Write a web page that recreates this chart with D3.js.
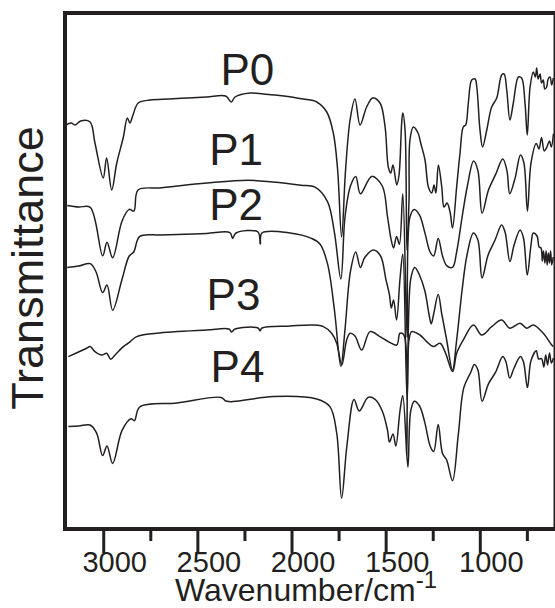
<!DOCTYPE html>
<html>
<head>
<meta charset="utf-8">
<script src="https://cdn.jsdelivr.net/npm/d3@7"></script>
<style>
  body { margin: 0; background: #fff; }
  svg { display: block; }
  text { font-family: "Liberation Sans", Arial, sans-serif; fill: #231f20; }
</style>
</head>
<body>
<svg id="chart" width="555" height="608"></svg>
<script>
// spectra: [wavenumber cm-1, transmittance (a.u., stacked)]
var p0 = [[3198,202],[3170,203],[3150,202],[3120,204],[3070,203.5],[3044,193],[3000,175.5],[2982,185.5],[2955,169.5],[2928,183],[2893,196],[2872,205.5],[2858,203],[2842,207],[2814,213],[2752,214.5],[2650,215],[2550,215.5],[2450,216],[2350,216.5],[2320,213.5],[2300,216],[2220,218],[2150,217.5],[2088,217],[2000,216],[1939,215],[1866,213.5],[1813,208.5],[1778,198],[1755,179.5],[1734,146],[1713,179.5],[1689,204.5],[1663,215],[1636,202],[1601,211],[1569,215.5],[1530,213],[1503,201],[1486,181],[1473,178],[1461,182],[1441,172],[1429,177],[1415,203],[1409,208],[1397,199.5],[1387,139.5],[1376,164.5],[1371,194.5],[1353,201],[1328,198],[1314,193],[1291,184.5],[1273,171],[1255,168],[1243,172],[1233,168],[1220,182],[1202,171],[1190,161],[1174,163],[1158,158.5],[1145,150.5],[1123,171],[1105,188],[1088,201],[1075,202],[1061,213],[1043,224.5],[1025,225],[1016,221],[999,199.5],[985,191],[963,199.5],[937,211],[910,215.5],[884,227],[871,227.5],[857,219.5],[840,204.5],[822,213],[795,226],[778,225.5],[760,213],[748,197],[733,221],[716,228.5],[705,226],[698,230.5],[690,225],[680,227.5],[672,223],[663,224.5],[655,220],[645,221],[637,225],[627,226],[618,222],[610,225.5]];

var p1 = [[3191,161.8],[3130,161],[3069,160.8],[3003,136.6],[2980,143.4],[2950,135.6],[2900,154],[2862,159.8],[2837,159],[2815,169.5],[2700,170.5],[2608,171.5],[2450,173],[2232,174.4],[2100,173.5],[1950,171.9],[1875,170.9],[1809,163.7],[1772,148.2],[1738,125],[1716,156],[1687,171.5],[1659,176.3],[1634,167.6],[1574,176.3],[1518,171.5],[1490,156],[1470,144.3],[1458,140.5],[1442,146.3],[1427,142.4],[1409,167.6],[1386,95.9],[1371,156],[1348,159.8],[1320,156.9],[1292,148.2],[1264,138.5],[1245,136.5],[1221,145.3],[1198,136.5],[1176,131.7],[1145,130.8],[1123,138.5],[1094,156],[1066,171.5],[1033,184],[1010,179.2],[988,157.9],[954,169.5],[916,177.3],[878,185],[856,179.2],[841,167.6],[813,175.3],[784,187],[766,183.1],[747,158.9],[728,183.1],[700,192.8],[686,190],[672,195.7],[658,189],[644,190.9],[630,194],[620,191],[609,197.6]];

var p2 = [[3191,130.8],[3130,131.5],[3069,132.7],[3038,128.5],[3003,118.2],[2980,122],[2950,109.4],[2900,124.9],[2862,136.5],[2838,138.5],[2806,146.3],[2700,147],[2608,147.2],[2450,147.8],[2327,148.2],[2313,145.3],[2295,148],[2178,148.5],[2166,142.5],[2157,148],[2008,148],[1894,145.3],[1849,142.5],[1809,132.7],[1772,109.5],[1738,81.3],[1716,99.7],[1687,128.8],[1659,138.5],[1634,130.8],[1612,135.6],[1565,139.5],[1527,136.5],[1499,124.9],[1480,117.2],[1470,110.5],[1458,114.5],[1442,104.5],[1424,124.9],[1409,137.5],[1386,64.5],[1367,124.9],[1345,130.8],[1320,126.9],[1292,119.1],[1270,107.5],[1258,102.6],[1245,107.5],[1221,117.2],[1202,107.5],[1176,94.5],[1145,79.5],[1123,94.5],[1094,119.5],[1068,137],[1034,148],[1010,144.5],[988,125.5],[956,137],[919,144.5],[884,152],[866,148.5],[840,133.7],[818,142],[786,149.5],[768,145.5],[748,127],[728,142],[716,148],[696,146.5],[685,141],[675,140.5],[668,134],[662,139],[654,133],[648,139],[642,132],[636,138],[630,133],[624,139],[618,132],[610,136]];

var p3 = [[3185,86.2],[3088,90.4],[3070,91.2],[3044,88.7],[3008,87],[2982,87.9],[2960,84.9],[2937,87],[2893,91.2],[2867,92.9],[2822,96.2],[2716,97.9],[2450,99.5],[2332,100],[2318,98.5],[2300,100],[2178,100.5],[2167,99],[2157,100.5],[2008,101.5],[1884,102],[1831,101.2],[1787,97.9],[1760,92.9],[1733,82],[1707,94.5],[1689,97.9],[1663,96.5],[1627,89.5],[1583,98.7],[1530,96.2],[1486,93.7],[1441,92],[1424,97.9],[1403,97],[1388,37],[1376,94.5],[1362,98.7],[1318,97],[1282,93.7],[1247,91.2],[1211,92.9],[1185,88.7],[1144,78.7],[1123,87.9],[1088,94.5],[1034,102],[990,97],[937,101.2],[884,104.5],[840,100.4],[786,102.9],[751,100.4],[716,102],[663,97.9],[618,92],[609,91.2]];

var p4 = [[3185,51.2],[3130,51.5],[3070,52],[3035,47.9],[3003,36.7],[2980,41.5],[2950,32.8],[2900,49.3],[2852,55.1],[2834,54.2],[2806,61],[2608,63],[2374,65.8],[2348,64],[2309,63.7],[2097,66.2],[1866,65],[1796,61.2],[1760,47.9],[1734,15.4],[1706,41.5],[1668,64.8],[1640,59],[1593,65.8],[1556,64.8],[1518,59],[1490,49.3],[1480,43.5],[1461,47.5],[1446,41.5],[1424,59],[1409,66.8],[1382,30.9],[1367,59],[1348,63.9],[1320,61.5],[1292,53.2],[1264,41.5],[1245,38.7],[1221,52.2],[1198,37.7],[1176,34.5],[1145,24.1],[1114,47.4],[1085,70.7],[1048,78.4],[1029,82.3],[1010,79.5],[988,63.9],[954,72.6],[916,78.4],[878,86.2],[861,83.5],[841,75.5],[818,80.5],[784,86.2],[768,83.5],[747,70.7],[728,84.2],[700,89.1],[688,85],[672,85.2],[660,81],[650,87],[640,82],[630,88],[620,83],[609,85.5]];

var series = [p0, p1, p2, p3, p4];
var seriesNames = ["P0", "P1", "P2", "P3", "P4"];
// label anchor in data units [wavenumber, value]
var labelPos = [[2377,222],[2437,182],[2437,154.5],[2451,109.5],[2430,73.5]];

var majorTicks = [3000, 2500, 2000, 1500, 1000];
var minorTicks = [2750, 2250, 1750, 1250, 750];

var margin = {left: 65, right: 555.5, top: 13, bottom: 529};

var svg = d3.select("#chart");

var x = d3.scaleLinear().domain([3203, 598]).range([margin.left, margin.right]);
var y = d3.scaleLinear().domain([0, 258]).range([margin.bottom, margin.top]);

var line = d3.line()
	.curve(d3.curveCatmullRom.alpha(0.5))
	.x(function(d) { return x(d[0]); })
	.y(function(d) { return y(d[1]); });

// spectra
svg.append("g")
	.selectAll("path")
	.data(series)
	.enter()
	.append("path")
	.attr("d", line)
	.attr("fill", "none")
	.attr("stroke", "#231f20")
	.attr("stroke-width", 1.5)
	.attr("stroke-linejoin", "round");

// frame
svg.append("rect")
	.attr("x", margin.left)
	.attr("y", margin.top)
	.attr("width", margin.right - margin.left)
	.attr("height", margin.bottom - margin.top)
	.attr("fill", "none")
	.attr("stroke", "#231f20")
	.attr("stroke-width", 4);

// minor ticks
svg.append("g")
	.attr("transform", "translate(0," + margin.bottom + ")")
	.call(d3.axisBottom(x).tickValues(minorTicks).tickSize(12).tickFormat(""))
	.call(function(g) {
		g.select(".domain").remove();
		g.selectAll("line").attr("stroke", "#231f20").attr("stroke-width", 3);
	});

// major ticks
svg.append("g")
	.attr("transform", "translate(0," + margin.bottom + ")")
	.call(d3.axisBottom(x).tickValues(majorTicks).tickSize(24).tickPadding(-2).tickFormat(d3.format("d")))
	.call(function(g) {
		g.select(".domain").remove();
		g.selectAll("line").attr("stroke", "#231f20").attr("stroke-width", 3);
		g.selectAll("text")
			.attr("dx", 11)
			.style("font-size", "29px")
			.style("font-family", "'Liberation Sans', Arial, sans-serif")
			.attr("fill", "#231f20");
	});

// axis titles
var xt = svg.append("text")
	.attr("x", 306)
	.attr("y", 601)
	.attr("text-anchor", "middle")
	.style("font-size", "32px");
xt.append("tspan").text("Wavenumber/cm");
xt.append("tspan").attr("dy", -13).style("font-size", "24px").text("-1");

svg.append("text")
	.attr("transform", "translate(43,268) rotate(-90)")
	.attr("text-anchor", "middle")
	.style("font-size", "45px")
	.text("Transmittance");

// curve labels
svg.append("g")
	.selectAll("text")
	.data(seriesNames)
	.enter()
	.append("text")
	.attr("x", function(d, i) { return x(labelPos[i][0]); })
	.attr("y", function(d, i) { return y(labelPos[i][1]); })
	.style("font-size", "44px")
	.text(function(d) { return d; });
</script>
</body>
</html>
